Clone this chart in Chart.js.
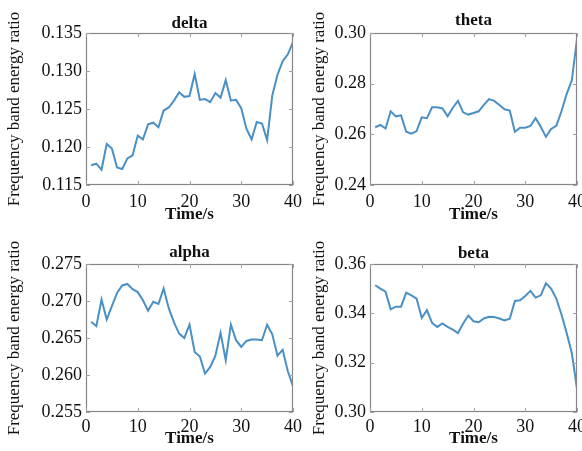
<!DOCTYPE html>
<html>
<head>
<meta charset="utf-8">
<script src="https://cdn.jsdelivr.net/npm/chart.js@4.4.1/dist/chart.umd.min.js"></script>
<style>
  html, body { margin: 0; padding: 0; background: #fff; overflow: hidden; }
  body { width: 582px; height: 451px; position: relative; }
  canvas { position: absolute; }
</style>
</head>
<body>
<canvas id="c1" width="310" height="228" style="left:0;top:0"></canvas>
<canvas id="c2" width="310" height="228" style="left:284px;top:0"></canvas>
<canvas id="c3" width="310" height="221" style="left:0;top:230px"></canvas>
<canvas id="c4" width="310" height="221" style="left:284px;top:230px"></canvas>
<script>
const times = [1, 2, 3, 4, 5, 6, 7, 8, 9, 10, 11, 12, 13, 14, 15, 16, 17, 18, 19, 20,
               21, 22, 23, 24, 25, 26, 27, 28, 29, 30, 31, 32, 33, 34, 35, 36, 37, 38, 39, 40];

const delta = [0.1176, 0.1178, 0.1170, 0.1204, 0.1198, 0.1173, 0.1171, 0.1185, 0.1189, 0.1215,
               0.1210, 0.1230, 0.1232, 0.1226, 0.1248, 0.1252, 0.1261, 0.1272, 0.1266, 0.1267,
               0.1296, 0.1262, 0.1263, 0.1259, 0.1271, 0.1265, 0.1288, 0.1261, 0.1262, 0.1251,
               0.1224, 0.1210, 0.1233, 0.1231, 0.1209, 0.1268, 0.1295, 0.1313, 0.1322, 0.1338];
const theta = [0.2628, 0.2637, 0.2623, 0.2691, 0.2671, 0.2675, 0.2610, 0.2603, 0.2613, 0.2667,
               0.2664, 0.2707, 0.2707, 0.2702, 0.2671, 0.2705, 0.2732, 0.2687, 0.2678, 0.2684,
               0.2691, 0.2716, 0.2739, 0.2732, 0.2716, 0.2699, 0.2694, 0.2610, 0.2626, 0.2626,
               0.2633, 0.2664, 0.2630, 0.2590, 0.2621, 0.2634, 0.2691, 0.2759, 0.2813, 0.2976];
const alpha = [0.2672, 0.2666, 0.2702, 0.2675, 0.2693, 0.2711, 0.2721, 0.2723, 0.2716, 0.2712,
               0.2701, 0.2687, 0.2699, 0.2696, 0.2717, 0.2690, 0.2671, 0.2656, 0.2650, 0.2668,
               0.2631, 0.2625, 0.2602, 0.2611, 0.2626, 0.2657, 0.2620, 0.2668, 0.2647, 0.2638,
               0.2646, 0.2648, 0.2648, 0.2647, 0.2668, 0.2655, 0.2626, 0.2634, 0.2605, 0.2585];
const beta = [0.3514, 0.3500, 0.3488, 0.3416, 0.3427, 0.3427, 0.3484, 0.3473, 0.3460, 0.3382,
              0.3413, 0.3361, 0.3345, 0.3359, 0.3345, 0.3334, 0.3320, 0.3359, 0.3391, 0.3368,
              0.3364, 0.3379, 0.3386, 0.3385, 0.3379, 0.3371, 0.3378, 0.3450, 0.3453, 0.3470,
              0.3491, 0.3464, 0.3473, 0.3522, 0.3500, 0.3460, 0.3395, 0.3320, 0.3239, 0.3095];

const xTicks = [0, 10, 20, 30, 40];
const deltaTicks = [0.115, 0.120, 0.125, 0.130, 0.135];
const thetaTicks = [0.24, 0.26, 0.28, 0.30];
const alphaTicks = [0.255, 0.260, 0.265, 0.270, 0.275];
const betaTicks = [0.30, 0.32, 0.34, 0.36];

const FONT = "'Liberation Serif', 'DejaVu Serif', serif";
const LINE_COLOR = '#4a90c4';

// box round the plot area with small inward ticks, like matlab axes
const framePlugin = {
    id: 'frame',
    afterDraw(chart) {
        const { ctx, chartArea: a, scales } = chart;
        ctx.save();
        ctx.strokeStyle = '#858585';
        ctx.lineWidth = 1.2;
        ctx.strokeRect(a.left + 0.5, a.top + 0.5, a.width - 1, a.height - 1);
        ctx.lineWidth = 1;
        ctx.strokeStyle = '#a0a0a0';
        scales.x.ticks.forEach(t => {
            const px = Math.round(scales.x.getPixelForValue(t.value)) + 0.5;
            ctx.beginPath();
            ctx.moveTo(px, a.bottom); ctx.lineTo(px, a.bottom - 4);
            ctx.moveTo(px, a.top); ctx.lineTo(px, a.top + 4);
            ctx.stroke();
        });
        scales.y.ticks.forEach(t => {
            const py = Math.round(scales.y.getPixelForValue(t.value)) + 0.5;
            ctx.beginPath();
            ctx.moveTo(a.left, py); ctx.lineTo(a.left + 4, py);
            ctx.moveTo(a.right, py); ctx.lineTo(a.right - 4, py);
            ctx.stroke();
        });
        ctx.restore();
    }
};

function makePanel(id, name, values, yTicks, decimals, p) {
    const ctx = document.getElementById(id).getContext('2d');
    return new Chart(ctx, {
        type: 'line',
        data: {
            datasets: [{
                data: times.map((t, i) => ({ x: t, y: values[i] })),
                borderColor: LINE_COLOR,
                borderWidth: 2,
                pointRadius: 0,
                fill: false,
                tension: 0
            }]
        },
        options: {
            responsive: false,
            animation: false,
            layout: { padding: { left: 0, right: 17, top: 0, bottom: 0 } },
            plugins: {
                legend: { display: false },
                tooltip: { enabled: false },
                title: {
                    display: true,
                    fullSize: false,   // centre over the plot, not the canvas
                    text: name,
                    color: '#111',
                    font: { family: FONT, size: 17, weight: 'bold', lineHeight: 1 },
                    padding: p.titlePad
                }
            },
            scales: {
                x: {
                    type: 'linear',
                    min: 0,
                    max: 40,
                    afterBuildTicks: (scale) => { scale.ticks = xTicks.map(v => ({ value: v })); },
                    afterFit: (scale) => { scale.height = p.xHeight; },
                    grid: { display: false, drawTicks: false },
                    border: { display: false },
                    ticks: {
                        color: '#111',
                        padding: p.xTickPad,
                        maxRotation: 0,
                        font: { family: FONT, size: 18 }
                    },
                    title: {
                        display: true,
                        text: 'Time/s',
                        color: '#111',
                        font: { family: FONT, size: 17, weight: 'bold', lineHeight: 1 },
                        padding: { top: 0, bottom: p.xTitlePad }
                    }
                },
                y: {
                    min: yTicks[0],
                    max: yTicks[yTicks.length - 1],
                    afterBuildTicks: (scale) => { scale.ticks = yTicks.map(v => ({ value: v })); },
                    afterFit: (scale) => { scale.width = 86; },
                    grid: { display: false, drawTicks: false },
                    border: { display: false },
                    ticks: {
                        color: '#111',
                        padding: 4,
                        font: { family: FONT, size: 18 },
                        callback: (v) => Number(v).toFixed(decimals)
                    },
                    title: {
                        display: true,
                        text: 'Frequency band energy ratio',
                        color: '#111',
                        font: { family: FONT, size: 17, lineHeight: 1 },
                        padding: { top: p.yTitlePad, bottom: 0 }
                    }
                }
            }
        },
        plugins: [framePlugin]
    });
}

makePanel('c1', 'delta', delta, deltaTicks, 3,
    { titlePad: { top: 15, bottom: 1 }, xHeight: 43, xTickPad: 6, xTitlePad: 5, yTitlePad: 6.5 });
makePanel('c2', 'theta', theta, thetaTicks, 2,
    { titlePad: { top: 12, bottom: 4 }, xHeight: 43, xTickPad: 6, xTitlePad: 5, yTitlePad: 27.5 });
makePanel('c3', 'alpha', alpha, alphaTicks, 3,
    { titlePad: { top: 14, bottom: 3 }, xHeight: 39, xTickPad: 4, xTitlePad: 4, yTitlePad: 6.5 });
makePanel('c4', 'beta', beta, betaTicks, 2,
    { titlePad: { top: 15, bottom: 2 }, xHeight: 39, xTickPad: 4, xTitlePad: 4, yTitlePad: 27.5 });
</script>
</body>
</html>
